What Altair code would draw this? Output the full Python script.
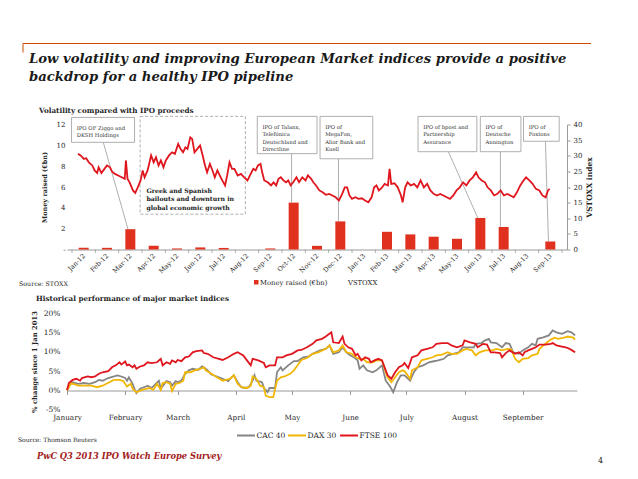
import json
import altair as alt
import pandas as pd

FONT = "DejaVu Serif"
INK = "#262626"
RED = "#E0301E"
LINE_RED = "#E0161E"
GREYLINE = "#9a9a9a"

# ---------------- top chart data ----------------
months = ["Jan-12", "Feb-12", "Mar-12", "Apr-12", "May-12", "Jun-12", "Jul-12",
          "Aug-12", "Sep-12", "Oct-12", "Nov-12", "Dec-12", "Jan-13", "Feb-13",
          "Mar-13", "Apr-13", "May-13", "Jun-13", "Jul-13", "Aug-13", "Sep-13"]
ipo_bn = [0.16, 0.16, 1.95, 0.36, 0.1, 0.2, 0.15, 0.0, 0.1, 4.5, 0.35, 2.7,
          0.0, 1.7, 1.45, 1.23, 1.03, 3.03, 2.16, 0.0, 0.77]

# VSTOXX positions in months from Jan-12 and index values
vstoxx_pos = [-0.24, -0.13, 0.01, 0.11, 0.22, 0.37, 0.47, 0.58, 0.64, 0.76, 0.89, 1.0,
              1.13, 1.21, 1.34, 1.48, 1.63, 1.76, 1.81, 1.88, 1.97, 2.11, 2.21, 2.32,
              2.44, 2.53, 2.61, 2.74, 2.89, 3.0, 3.1, 3.21, 3.31, 3.42, 3.52, 3.66,
              3.79, 3.91, 4.05, 4.15, 4.26, 4.36, 4.45, 4.57, 4.65, 4.75, 4.87, 4.99,
              5.1, 5.2, 5.29, 5.41, 5.52, 5.62, 5.73, 5.83, 5.94, 6.06, 6.15, 6.25,
              6.36, 6.46, 6.6, 6.74, 6.88, 7.02, 7.16, 7.27, 7.37, 7.47, 7.58, 7.65,
              7.74, 7.89, 8.03, 8.14, 8.25, 8.35, 8.45, 8.56, 8.67, 8.77, 8.87, 8.98,
              9.12, 9.23, 9.37, 9.51, 9.61, 9.75, 9.84, 9.96, 10.1, 10.24, 10.38, 10.52,
              10.66, 10.8, 10.94, 11.08, 11.19, 11.29, 11.39, 11.5, 11.64, 11.78, 11.92,
              12.06, 12.2, 12.34, 12.45, 12.55, 12.65, 12.76, 12.9, 13.04, 13.11, 13.18,
              13.32, 13.46, 13.6, 13.67, 13.78, 13.88, 14.02, 14.16, 14.3, 14.44, 14.58,
              14.72, 14.86, 15.0, 15.14, 15.28, 15.42, 15.56, 15.7, 15.84, 15.98, 16.12,
              16.26, 16.4, 16.54, 16.68, 16.82, 16.92, 17.06, 17.2, 17.31, 17.45, 17.59,
              17.73, 17.87, 18.01, 18.15, 18.29, 18.43, 18.57, 18.71, 18.85, 18.96, 19.1,
              19.24, 19.38, 19.53, 19.66, 19.8, 19.9, 19.97]
vstoxx = [30.6, 30.1, 29.0, 29.2, 27.9, 26.9, 25.3, 24.5, 26.3, 24.5, 25.8, 26.9,
          26.3, 25.0, 24.2, 23.7, 23.1, 22.6, 28.5, 22.6, 21.5, 18.9, 18.1, 19.9,
          22.1, 25.3, 23.1, 25.3, 30.1, 27.9, 29.5, 26.9, 28.5, 26.3, 28.5, 30.1,
          31.1, 30.6, 33.8, 32.2, 31.1, 32.7, 32.2, 35.9, 35.4, 31.1, 32.2, 33.3,
          30.1, 26.9, 24.7, 27.4, 25.3, 23.1, 25.3, 23.7, 22.1, 20.5, 23.7, 27.9,
          25.8, 25.8, 23.7, 24.2, 23.1, 22.1, 24.2, 25.8, 25.3, 26.9, 27.4, 24.7,
          22.1, 21.5, 20.5, 21.5, 20.5, 22.6, 23.1, 22.1, 21.5, 22.1, 20.5, 21.5,
          23.1, 21.5, 23.1, 22.1, 23.7, 22.6, 21.5, 20.5, 18.9, 18.3, 17.5, 17.8,
          17.3, 16.7, 15.7, 17.8, 19.9, 19.9, 17.3, 16.2, 16.7, 16.2, 16.4,
          15.7, 15.1, 16.7, 19.9, 20.5, 18.9, 19.6, 21.0, 20.5, 25.8, 21.0,
          21.2, 19.9, 17.3, 15.1, 19.9, 21.5, 20.5, 21.0, 19.9, 22.1, 19.9,
          21.0, 18.9, 17.8, 17.3, 17.8, 17.3, 16.7, 16.2, 17.3, 18.9, 19.9,
          21.5, 20.5, 22.1, 23.1, 24.7, 23.1, 22.1, 21.5, 19.9, 18.9, 17.3,
          17.8, 18.9, 17.3, 17.8, 17.3, 16.7, 18.3, 20.5, 22.1, 23.1, 22.1,
          21.0, 19.4, 18.9, 17.3, 16.7, 18.9, 19.4]

# annotation boxes (month position / EUR bn) and their texts
anno_m0 = [-0.52, 7.44, 10.13, 14.33, 17.0, 18.85]
anno_m1 = [2.18, 10.0, 12.39, 16.85, 18.74, 20.38]
anno_bn0 = [10.29, 9.2, 8.71, 9.39, 9.39, 10.39]
anno_bn1 = [12.68, 12.78, 12.78, 12.78, 12.78, 12.78]
anno_text = [["IPO OF Ziggo and", "DKSH Holdings"],
             ["IPO of Talanx,", "Telefónica", "Deutschland and", "Directline"],
             ["IPO of", "MegaFon,", "Alior Bank and", "Kuell"],
             ["IPO of bpost and", "Partnership", "Assurance"],
             ["IPO of", "Deutsche", "Annington"],
             ["IPO of", "Foxtons"]]
leader_m0 = [0.84, 8.91, 10.92, 15.63, 17.86, 19.79]
leader_m1 = [1.9, 8.91, 10.92, 16.89, 17.86, 19.92]
leader_bar = [2, 9, 11, 17, 18, 20]

greek_box = {"m0": 2.42, "m1": 6.93, "bn0": 3.39, "bn1": 12.78}
greek_text = ["Greek and Spanish", "bailouts and downturn in", "global economic growth"]
greek_bn = [5.45, 4.61, 3.77]

# ---------------- bottom chart data ----------------
ftse_day = [0, 1, 3, 5, 7, 8, 11, 13, 15, 17, 19, 22, 24, 26, 28, 29, 31, 32, 33, 35, 36, 37, 39,
            41, 43, 45, 48, 50, 51, 53, 55, 56, 58, 59, 61, 63, 65, 67, 69, 72, 73, 75, 78, 81,
            83, 86, 89, 91, 94, 96, 98, 99, 102, 105, 106, 108, 111, 112, 115, 117, 120, 123,
            125, 128, 131, 133, 136, 138, 141, 142, 145, 147, 148, 150, 152, 154, 155, 157,
            159, 161, 162, 164, 166, 168, 170, 171, 173, 175, 177, 179, 180, 182, 184, 187,
            189, 192, 195, 197, 200, 203, 205, 208, 211, 212, 215, 218, 219, 222, 224, 226,
            228, 231, 232, 234, 236, 239, 241, 243, 244, 246, 248, 250, 252, 255, 258, 259,
            261, 264, 266, 268, 270, 271]
ftse = [0, 1.9, 2.7, 3.0, 2.5, 3.2, 3.6, 3.4, 3.6, 4.3, 4.7, 5.0, 6.0, 6.5, 7.3, 6.7, 7.5, 6.5,
        6.7, 6.0, 6.5, 5.6, 6.2, 6.5, 7.3, 7.1, 7.3, 8.2, 6.5, 7.3, 6.9, 7.8, 7.3, 7.9, 7.6,
        8.6, 8.8, 9.9, 10.2, 10.4, 9.7, 9.5, 8.6, 8.2, 7.9, 8.6, 9.5, 9.9, 9.1, 7.8, 6.5, 8.2,
        7.8, 7.1, 6.0, 6.5, 6.5, 8.6, 8.6, 9.1, 9.5, 10.4, 10.5, 11.2, 12.1, 13.0, 13.4, 14.0,
        15.1, 12.5, 12.3, 14.0, 12.1, 11.2, 10.8, 9.1, 9.5, 7.8, 8.6, 8.2, 7.3, 7.8, 8.2, 7.8,
        5.2, 3.9, 3.0, 4.7, 6.0, 6.5, 7.1, 5.8, 8.6, 9.1, 10.4, 10.8, 11.2, 12.1, 12.3, 12.3,
        11.7, 11.2, 11.7, 13.0, 12.5, 12.1, 11.2, 12.1, 11.9, 9.9, 9.9, 9.7, 8.6, 9.7, 10.4,
        9.5, 9.9, 9.1, 9.9, 10.4, 10.8, 11.2, 11.9, 11.9, 12.1, 12.3, 11.7, 11.4, 11.2, 10.8,
        10.2, 9.9]
cac_day = [0, 2, 3, 6, 9, 12, 15, 17, 19, 22, 25, 27, 29, 31, 32, 33, 35, 36, 37, 39, 41, 43,
           45, 46, 49, 50, 52, 53, 55, 56, 58, 59, 61, 63, 65, 67, 70, 72, 74, 75, 77, 80, 83,
           86, 87, 89, 91, 93, 95, 97, 99, 100, 101, 104, 105, 107, 108, 111, 112, 114, 115,
           118, 121, 123, 126, 129, 131, 135, 138, 140, 142, 145, 147, 149, 151, 153, 155,
           156, 158, 160, 163, 165, 168, 170, 172, 173, 174, 176, 178, 180, 183, 185, 187,
           190, 193, 195, 198, 201, 203, 206, 209, 211, 214, 217, 218, 221, 223, 225, 226,
           229, 232, 234, 236, 238, 241, 243, 246, 248, 250, 251, 254, 257, 259, 261, 264,
           267, 269, 271]
cac = [0, 1.7, 2.1, 1.7, 1.9, 1.7, 2.1, 2.7, 2.5, 3.2, 3.6, 3.9, 3.6, 3.2, 2.5, 3.4, 1.7, 0.4,
       -0.7, 0.4, 0.8, 1.2, 0.6, 1.0, 2.5, 0.4, 1.7, 2.4, 2.1, 1.2, 2.4, 2.1, 2.5, 4.3, 5.2,
       5.6, 5.3, 6.2, 5.6, 5.2, 4.1, 3.6, 3.0, 2.4, 3.0, 3.9, 2.1, 0.8, 0.6, 0.8, 2.5, 3.9,
       2.5, 2.1, 0.6, -0.5, 0.6, 0.6, 4.7, 6.0, 5.2, 6.5, 7.6, 7.6, 8.6, 8.8, 9.5, 10.4, 10.8,
       11.7, 9.5, 9.9, 11.2, 9.9, 9.1, 8.6, 7.8, 5.6, 6.5, 5.2, 4.7, 5.2, 6.5, 2.5, 1.2, 0.4,
       -0.5, 2.1, 3.9, 3.9, 2.5, 4.7, 6.0, 6.5, 7.3, 7.5, 7.8, 8.2, 9.1, 9.5, 9.9, 11.2, 11.2,
       11.2, 12.1, 12.3, 13.0, 13.4, 12.5, 12.3, 11.2, 12.3, 12.1, 9.9, 9.5, 10.4, 11.2, 12.1,
       11.7, 13.4, 13.8, 14.3, 15.6, 15.1, 14.7, 15.4, 15.1, 14.3]
dax_day = [0, 2, 3, 6, 10, 13, 16, 19, 21, 25, 28, 30, 32, 34, 35, 37, 40, 42, 44, 46, 48, 50,
           51, 53, 55, 56, 58, 60, 62, 63, 66, 68, 71, 73, 74, 77, 80, 83, 87, 89, 91, 93, 96,
           98, 99, 101, 103, 105, 106, 108, 110, 112, 114, 116, 119, 121, 123, 125, 128, 131,
           134, 138, 140, 142, 145, 147, 149, 152, 154, 156, 158, 160, 163, 165, 168, 170,
           171, 173, 175, 177, 179, 180, 183, 184, 187, 189, 192, 195, 197, 200, 203, 205,
           208, 211, 213, 216, 218, 220, 223, 226, 227, 229, 232, 235, 237, 239, 241, 243,
           246, 248, 251, 252, 255, 258, 260, 262, 265, 267, 270, 271]
dax = [0, 1.7, 1.7, 1.2, 1.2, 1.2, 0.8, 1.2, 1.7, 2.7, 2.7, 2.4, 1.0, 1.7, 0.4, -0.5, 0.1, 0.4,
       0.6, 0.1, 1.7, 0.1, 1.9, 2.1, 1.7, -0.2, 1.7, 1.9, 2.5, 4.7, 4.7, 5.2, 5.6, 6.0, 5.2,
       4.3, 3.4, 2.5, 3.0, 3.9, 1.7, 0.8, 0.6, 1.2, 3.6, 3.0, 1.2, 0.8, -1.4, -1.8, -1.8, 2.5,
       3.4, 3.6, 4.3, 5.2, 6.5, 7.9, 8.4, 9.5, 9.9, 10.8, 11.7, 9.9, 10.4, 11.7, 9.9, 9.5, 8.6,
       8.2, 8.2, 7.3, 7.3, 7.8, 7.8, 4.7, 3.4, 2.1, 3.4, 4.7, 5.2, 5.0, 3.0, 5.2, 6.0, 7.8,
       8.2, 8.6, 9.1, 9.3, 9.9, 9.5, 9.5, 10.4, 10.8, 10.4, 9.1, 9.9, 10.4, 10.4, 10.4, 10.8,
       10.4, 10.8, 10.6, 8.2, 7.3, 8.2, 8.4, 9.1, 9.5, 10.8, 12.1, 13.2, 13.7, 13.4, 13.7,
       14.0, 13.7, 13.2]
index_names = ["CAC 40", "DAX 30", "FTSE 100"]
index_colors = ["#858585", "#F2B705", LINE_RED]

# ---------------- tables ----------------
bars_df = pd.DataFrame({"m": list(range(len(months))), "bn": ipo_bn})
vst_df = pd.DataFrame({"m": vstoxx_pos, "vstoxx": vstoxx})
anno_df = pd.DataFrame({"m": anno_m0, "m2": anno_m1, "bn": anno_bn0, "bn2": anno_bn1})
lead_df = pd.DataFrame({"m": leader_m0, "m2": leader_m1, "bn": anno_bn0,
                        "bn2": [ipo_bn[i] for i in leader_bar]})
rows = []
for m0, top, lines in zip(anno_m0, anno_bn1, anno_text):
    for i, t in enumerate(lines):
        rows.append({"m": m0 + 0.22, "bn": top - (12.5 + 7.2 * i) / 10.33, "t": t})
anno_lines = pd.DataFrame(rows)
greek_df = pd.DataFrame({"m": [greek_box["m0"] + 0.27] * 3, "bn": greek_bn, "t": greek_text})
greek_rect = pd.DataFrame([greek_box]).rename(columns={"m0": "m", "m1": "m2", "bn0": "bn", "bn1": "bn2"})

start = pd.Timestamp("2013-01-01")
frames = []
for name, days, vals in zip(index_names, [cac_day, dax_day, ftse_day], [cac, dax, ftse]):
    frames.append(pd.DataFrame({"date": start + pd.to_timedelta(days, unit="D"),
                                "pct": vals, "index": name}))
idx_df = pd.concat(frames, ignore_index=True)
idx_df["date"] = idx_df["date"].dt.strftime("%Y-%m-%d")

blank = alt.Data(values=[{"k": 0}])


def label(text, x, y, size, weight="normal", style="normal", color=INK, align="left"):
    return alt.Chart(blank).mark_text(
        text=text, align=align, baseline="alphabetic", font=FONT, fontSize=size,
        fontWeight=weight, fontStyle=style, color=color
    ).encode(x=alt.value(x), y=alt.value(y))


# ---------------- top chart ----------------
xscale = alt.Scale(domain=[-0.5, 20.5], nice=False, zero=False)
yscale_left = alt.Scale(domain=[0, 12], nice=False)
month_expr = json.dumps(months) + "[datum.value]"

x_axis = alt.Axis(
    values=list(range(len(months))), labelExpr=month_expr, labelAngle=315,
    labelAlign="right", labelBaseline="middle", labelPadding=5, labelFontSize=6.5,
    labelOverlap=False, labelFlush=False, labelBound=False, labelColor=INK, ticks=False,
    domainColor=GREYLINE, grid=False, title=None)
y_axis_left = alt.Axis(
    values=[0, 2, 4, 6, 8, 10, 12], labelExpr="datum.value == 0 ? '-' : datum.label",
    labelOverlap=False, domain=False, ticks=False, grid=False, labelPadding=2,
    labelFontSize=7, labelColor=INK, title="Money raised (€bn)", titleFontSize=6.5,
    titleFontWeight="bold", titleColor=INK, titlePadding=9)


def xq(field="m"):
    return alt.X(f"{field}:Q", scale=xscale, axis=x_axis)


def yq(field="bn"):
    return alt.Y(f"{field}:Q", scale=yscale_left, axis=y_axis_left)


bars = alt.Chart(bars_df).mark_bar(color=RED, size=10).encode(x=xq(), y=yq())

xticks = alt.Chart(pd.DataFrame({"m": [i - 0.5 for i in range(len(months) + 1)]})).mark_rule(
    color=GREYLINE, strokeWidth=0.8).encode(x=xq(), y=alt.value(125), y2=alt.value(128.5))

boxes = alt.Chart(anno_df).mark_rect(fill="white", stroke=GREYLINE, strokeWidth=0.8).encode(
    x=xq(), x2="m2", y=yq(), y2="bn2")
gbox = alt.Chart(greek_rect).mark_rect(fill=None, stroke=GREYLINE, strokeWidth=0.8,
                                      strokeDash=[3, 2]).encode(
    x=xq(), x2="m2", y=yq(), y2="bn2")
leaders = alt.Chart(lead_df).mark_rule(color=GREYLINE, strokeWidth=0.8).encode(
    x=xq(), x2="m2", y=yq(), y2="bn2")
anno_t = alt.Chart(anno_lines).mark_text(align="left", baseline="alphabetic", font=FONT,
                                         fontSize=5.3, color="#333333").encode(
    x=xq(), y=yq(), text="t:N")
greek_t = alt.Chart(greek_df).mark_text(align="left", baseline="alphabetic", font=FONT,
                                        fontSize=6.2, fontWeight="bold", color="#1a1a1a").encode(
    x=xq(), y=yq(), text="t:N")

# page furniture around the top chart (pixels relative to its plot area)
header_rule = alt.Chart(blank).mark_rule(color="#D04A02", strokeWidth=1).encode(
    x=alt.value(-44), x2=alt.value(524), y=alt.value(-81))
header_tick = alt.Chart(blank).mark_rule(color="#D04A02", strokeWidth=1).encode(
    x=alt.value(-44), y=alt.value(-81), y2=alt.value(-72))
title1 = label("Low volatility and improving European Market indices provide a positive",
               -38, -61.5, 13.2, weight="bold", style="italic", color="#1a1a1a")
title2 = label("backdrop for a healthy IPO pipeline", -38, -44, 13.2, weight="bold",
               style="italic", color="#1a1a1a")
sub1 = label("Volatility compared with IPO proceeds", -28, -11.3, 7.2, weight="bold")
src1 = label("Source: STOXX", -48, 161, 6.3)
leg_sq = alt.Chart(blank).mark_rect(color=RED).encode(
    x=alt.value(187), x2=alt.value(191.5), y=alt.value(155.5), y2=alt.value(160))
leg_t1 = label("Money raised (€bn)", 193, 160.5, 6.8)
leg_t2 = label("VSTOXX", 281, 160.5, 6.8)

left_group = alt.layer(bars, xticks, gbox, leaders, boxes, anno_t, greek_t, header_rule,
                       header_tick, title1, title2, sub1, src1, leg_sq, leg_t1, leg_t2)

vline = alt.Chart(vst_df).mark_line(color=LINE_RED, strokeWidth=1.8).encode(
    x=xq(),
    y=alt.Y("vstoxx:Q", scale=alt.Scale(domain=[0, 40], nice=False), axis=alt.Axis(
        orient="right", values=[0, 5, 10, 15, 20, 25, 30, 35, 40], domainColor=GREYLINE,
        tickColor=GREYLINE, tickSize=3, labelPadding=3, labelFontSize=7, labelColor=INK,
        labelOverlap=False, grid=False, title="VSTOXX index", titleAngle=270,
        titleBaseline="top", titleFontSize=7.5, titleFontWeight="bold", titleColor=INK,
        titlePadding=4)),
)

top = alt.layer(left_group, vline).resolve_scale(y="independent").properties(
    width=500, height=125)

# ---------------- bottom chart ----------------
month_starts = [alt.DateTime(year=2013, month=m, date=1) for m in range(1, 10)]
lines = alt.Chart(idx_df).mark_line(strokeWidth=1.8).encode(
    x=alt.X("date:T", scale=alt.Scale(domain=[alt.DateTime(year=2013, month=1, date=1),
                                              alt.DateTime(year=2013, month=9, date=30)]),
            axis=alt.Axis(values=month_starts, format="%B", labelFlush=False, offset=-19,
                          tickSize=4, tickColor=GREYLINE, domainColor=GREYLINE,
                          labelPadding=19, labelFontSize=7.3, labelColor=INK, grid=False,
                          labelOverlap=False, title=None)),
    y=alt.Y("pct:Q", scale=alt.Scale(domain=[-5, 20], nice=False),
            axis=alt.Axis(values=[-5, 0, 5, 10, 15, 20], labelExpr="datum.value + '%'",
                          labelOverlap=False, domain=False, ticks=False, grid=False,
                          labelPadding=7, labelFontSize=7.5, labelColor=INK,
                          title="% change since 1 Jan 2013", titleFontSize=6.8,
                          titleFontWeight="bold", titleColor=INK, titlePadding=6)),
    color=alt.Color("index:N", scale=alt.Scale(domain=index_names, range=index_colors),
                    legend=None),
)

# manual legend for the index lines (pixel layout under the plot)
legend_x = [170, 221, 273]
legend_layers = []
for name, colr, lx in zip(index_names, index_colors, legend_x):
    legend_layers.append(alt.Chart(blank).mark_rule(color=colr, strokeWidth=2).encode(
        x=alt.value(lx), x2=alt.value(lx + 18), y=alt.value(122)))
    legend_layers.append(label(name, lx + 19.5, 124.8, 7.5))

sub2 = label("Historical performance of major market indices", -31, -13, 7.2, weight="bold")
src2 = label("Source: Thomson Reuters", -49, 128.7, 6.0)
footer = label("PwC Q3 2013 IPO Watch Europe Survey", -30, 145.5, 8.3, weight="bold",
               style="italic", color="#A32020")
page = label("4", 531, 149, 8)

bottom = alt.layer(lines, sub2, src2, footer, page, *legend_layers).properties(
    width=510, height=96)

chart = alt.vconcat(top, bottom, spacing=7).properties(
    padding={"left": 10, "top": 34.5, "right": 5, "bottom": 5},
    background="white",
).configure_view(stroke=None).configure_axis(labelFont=FONT, titleFont=FONT)

chart.save("out.html", embed_options={"renderer": "svg", "actions": False})
